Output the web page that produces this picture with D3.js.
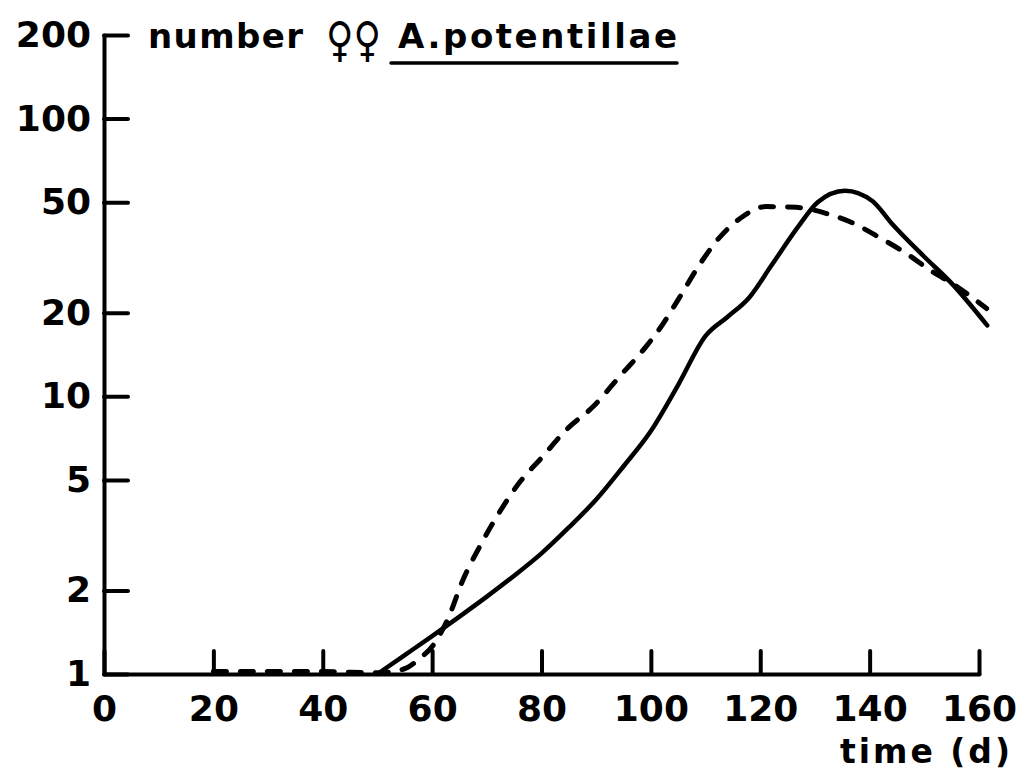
<!DOCTYPE html>
<html>
<head>
<meta charset="utf-8">
<script src="https://cdn.jsdelivr.net/npm/d3@7"></script>
<style>
  body { margin: 0; background: #fff; }
  svg { display: block; font-family: "DejaVu Sans", sans-serif; font-weight: bold; }
  .axis path, .axis line { stroke: #000; stroke-width: 4; stroke-linecap: round; }
  .axis text { fill: #000; }
</style>
</head>
<body>
<svg id="chart" width="1018" height="773"></svg>
<script>
// Data
const xTicks = [0, 20, 40, 60, 80, 100, 120, 140, 160];
const yTicks = [1, 2, 5, 10, 20, 50, 100, 200];

// solid line
const solidDays = [50, 55, 60, 65, 70, 75, 80, 85, 90, 95, 100, 105, 110, 114, 118, 122, 127, 130.5, 135.5, 140.5, 144, 150, 155, 161.5];
const solidCounts = [1.0, 1.17, 1.37, 1.61, 1.9, 2.26, 2.72, 3.37, 4.25, 5.6, 7.5, 11.0, 16.5, 19.3, 22.7, 29.5, 41, 50, 55, 50.5, 42, 31.8, 25.5, 18];

// dashed line
const dashedDays = [20, 30, 40, 50, 54.7, 57.8, 60.2, 63, 65.5, 69, 72.4, 76, 80, 84.6, 89.5, 94.3, 99, 101.6, 105.3, 109, 112.7, 116.3, 121, 126.6, 132, 137, 142, 146.7, 151, 156, 161.4];
const dashedCounts = [1.02, 1.02, 1.02, 1.01, 1.04, 1.14, 1.27, 1.6, 2.15, 2.95, 3.85, 4.9, 6.0, 7.6, 9.2, 11.8, 15, 17.5, 22.8, 30, 37.6, 43.7, 48.2, 47.9, 45.6, 42, 37.1, 32.7, 28.5, 24.8, 20.7];

const svg = d3.select("#chart");

// scales
const x = d3.scaleLinear().domain([0, 160]).range([104, 979]);
const y = d3.scaleLog().domain([1, 200]).range([674, 35]);

// y axis, ticks pointing inward
svg.append("g")
    .attr("class", "axis")
    .attr("transform", `translate(${x(0)},0)`)
    .call(d3.axisLeft(y)
        .tickValues(yTicks)
        .tickSizeInner(-24)
        .tickSizeOuter(0)
        .tickPadding(13)
        .tickFormat(d3.format("d")))
    .selectAll("text")
    .attr("font-size", 36)
    .attr("font-family", "DejaVu Sans")
    .attr("font-weight", "bold");

// x axis
svg.append("g")
    .attr("class", "axis")
    .attr("transform", `translate(0,${y(1)})`)
    .call(d3.axisBottom(x)
        .tickValues(xTicks)
        .tickSizeInner(-23)
        .tickSizeOuter(0)
        .tickPadding(21)
        .tickFormat(d3.format("d")))
    .selectAll("text")
    .attr("font-size", 36)
    .attr("font-family", "DejaVu Sans")
    .attr("font-weight", "bold");

// curves
const line = d3.line()
    .x(d => x(d[0]))
    .y(d => y(d[1]))
    .curve(d3.curveMonotoneX);

svg.append("path")
    .datum(dashedDays.map((d, i) => [d, dashedCounts[i]]))
    .attr("d", line)
    .attr("fill", "none")
    .attr("stroke", "#000")
    .attr("stroke-width", 5)
    .attr("stroke-linecap", "round")
    .attr("stroke-dasharray", "13,14");

svg.append("path")
    .datum(solidDays.map((d, i) => [d, solidCounts[i]]))
    .attr("d", line)
    .attr("fill", "none")
    .attr("stroke", "#000")
    .attr("stroke-width", 4.5)
    .attr("stroke-linecap", "round")
    .attr("stroke-linejoin", "round");

// title
svg.append("text")
    .attr("x", 148).attr("y", 48)
    .attr("font-size", 34)
    .attr("textLength", 155).attr("lengthAdjust", "spacing")
    .text("number");

svg.append("text")
    .attr("x", 326).attr("y", 56)
    .attr("font-size", 48)
    .attr("textLength", 55).attr("lengthAdjust", "spacingAndGlyphs")
    .text("♀♀");

svg.append("text")
    .attr("x", 398).attr("y", 48)
    .attr("font-size", 34)
    .attr("textLength", 279).attr("lengthAdjust", "spacing")
    .text("A.potentillae");

svg.append("line")
    .attr("x1", 391).attr("x2", 677)
    .attr("y1", 63).attr("y2", 63)
    .attr("stroke", "#000")
    .attr("stroke-width", 3.5)
    .attr("stroke-linecap", "round");

// x axis title
svg.append("text")
    .attr("x", 840).attr("y", 763)
    .attr("font-size", 33)
    .attr("textLength", 170).attr("lengthAdjust", "spacing")
    .text("time (d)");
</script>
</body>
</html>
